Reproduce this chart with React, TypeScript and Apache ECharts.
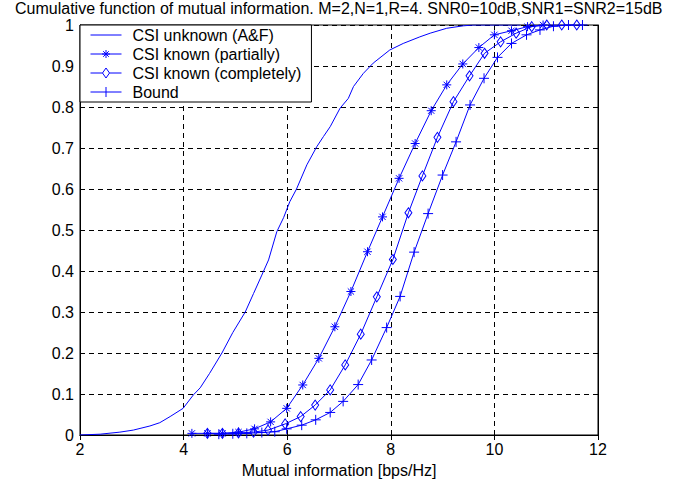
import React, { useEffect, useRef } from "react";
import * as echarts from "echarts";

const titleText =
  "Cumulative function of mutual information. M=2,N=1,R=4. SNR0=10dB,SNR1=SNR2=15dB";
const xLabel = "Mutual information [bps/Hz]";
const seriesNames = [
  "CSI unknown (A&F)",
  "CSI known (partially)",
  "CSI known (completely)",
  "Bound",
];

// CSI unknown (A&F)
const unknownX = [2, 2.39, 2.77, 3.03, 3.35, 3.54, 3.74, 3.99, 4.19, 4.32, 4.5, 4.74, 4.95, 5.19, 5.35, 5.51, 5.64, 5.8, 5.93, 6.05, 6.18, 6.38, 6.57, 6.7, 6.83, 7.02, 7.18, 7.28, 7.47, 7.66, 7.98, 8.24, 8.56, 8.76, 9.08, 9.4, 9.59, 10.5];
const unknownY = [0, 0.002, 0.007, 0.012, 0.022, 0.03, 0.045, 0.065, 0.098, 0.115, 0.15, 0.2, 0.25, 0.3, 0.345, 0.39, 0.427, 0.496, 0.53, 0.569, 0.6, 0.659, 0.703, 0.728, 0.752, 0.797, 0.821, 0.85, 0.882, 0.907, 0.939, 0.955, 0.971, 0.98, 0.992, 0.998, 1, 1];

// CSI known (partially)
const partialX = [4.16, 4.46, 4.75, 5.06, 5.37, 5.68, 5.99, 6.3, 6.61, 6.92, 7.23, 7.55, 7.84, 8.16, 8.47, 8.78, 9.08, 9.39, 9.7, 10.0, 10.33, 10.64, 10.94];
const partialY = [0.004, 0.004, 0.004, 0.007, 0.015, 0.032, 0.065, 0.122, 0.187, 0.264, 0.35, 0.447, 0.532, 0.626, 0.711, 0.791, 0.854, 0.905, 0.945, 0.976, 0.986, 0.996, 1.0];

// CSI known (completely)
const completeX = [4.46, 4.75, 5.06, 5.35, 5.63, 5.96, 6.26, 6.54, 6.83, 7.12, 7.42, 7.73, 8.04, 8.34, 8.61, 8.9, 9.21, 9.52, 9.81, 10.12, 10.42, 10.72, 11.01, 11.3, 11.59];
const completeY = [0.004, 0.004, 0.005, 0.007, 0.012, 0.027, 0.045, 0.073, 0.11, 0.171, 0.246, 0.337, 0.428, 0.542, 0.632, 0.726, 0.813, 0.876, 0.931, 0.959, 0.98, 0.996, 1, 1, 1];

// Bound
const boundX = [4.68, 4.95, 5.22, 5.51, 5.76, 5.99, 6.28, 6.55, 6.83, 7.08, 7.37, 7.63, 7.92, 8.18, 8.45, 8.72, 9.0, 9.26, 9.53, 9.8, 10.06, 10.33, 10.62, 10.88, 11.14, 11.43, 11.7];
const boundY = [0.002, 0.003, 0.004, 0.006, 0.008, 0.015, 0.024, 0.037, 0.055, 0.082, 0.123, 0.183, 0.262, 0.338, 0.446, 0.54, 0.634, 0.715, 0.805, 0.87, 0.921, 0.955, 0.976, 0.988, 0.997, 1, 1];

const BLUE = "#0000ff";
const FONT = "'Liberation Sans', Arial, Helvetica, sans-serif";

const zip = (xs: number[], ys: number[]) => xs.map((x, i) => [x, ys[i]]);

const ASTERISK = "path://M0,5 L10,5 M5,0 L5,10 M1.5,1.5 L8.5,8.5 M8.5,1.5 L1.5,8.5";
const PLUS = "path://M0,5 L10,5 M5,0 L5,10";
const DIAMOND = "path://M5,0 L10,7 L5,14 L0,7 Z";

// legend icons (31 x 10 box): line with the marker in its middle
const LEG_LINE = "path://M0,0 M0,5 L31,5 M31,10";
const LEG_ASTERISK =
  "path://M0,0 M0,5 L31,5 M11.5,5 L19.5,5 M15.5,1 L15.5,9 M12.7,2.2 L18.3,7.8 M18.3,2.2 L12.7,7.8 M31,10";
const LEG_DIAMOND = "path://M0,5 L12,5 M19,5 L31,5 M15.5,0 L19,5 L15.5,10 L12,5 Z";
const LEG_PLUS = "path://M0,5 L31,5 M15.5,0 L15.5,10";

export default function App() {
  const ref = useRef<HTMLDivElement>(null);
  useEffect(() => {
    if (!ref.current) return;
    const chart = echarts.init(ref.current, undefined, { renderer: "svg" });
    const axisLabel = { color: "#000", fontSize: 16, fontFamily: FONT };
    const baseSeries = (name: string, data: number[][], symbol: string, size: any, fill: string) => ({
      name,
      type: "line",
      data,
      symbol,
      symbolSize: size,
      lineStyle: { color: BLUE, width: 1 },
      itemStyle: { color: fill, borderColor: BLUE, borderWidth: 1 },
      emphasis: { disabled: true },
      z: 3,
    });
    const legStyle = { color: "none", borderColor: BLUE, borderWidth: 1 };
    const legIcons = [LEG_LINE, LEG_ASTERISK, LEG_DIAMOND, LEG_PLUS];
    chart.setOption({
      animation: false,
      backgroundColor: "#fff",
      title: {
        text: titleText,
        left: 15,
        top: 0,
        padding: 0,
        textStyle: { color: "#000", fontSize: 16, fontWeight: "normal", fontFamily: FONT },
      },
      grid: {
        left: 80,
        right: 101,
        top: 25,
        bottom: 49,
        show: true,
        borderColor: "#000",
        borderWidth: 1,
        backgroundColor: "#fff",
      },
      legend: {
        left: 80,
        top: 25,
        orient: "vertical",
        backgroundColor: "#fff",
        borderColor: "#000",
        borderWidth: 1,
        borderRadius: 0,
        padding: [2, 10, 2, 8],
        itemGap: 3,
        itemWidth: 31,
        itemHeight: 10,
        textStyle: { color: "#000", fontSize: 16, fontFamily: FONT, padding: [0, 0, 0, 6] },
        data: seriesNames.map((name, i) => ({ name, icon: legIcons[i], itemStyle: legStyle })),
      },
      xAxis: [
        {
          type: "value",
          min: 2,
          max: 12,
          interval: 2,
          name: xLabel,
          nameLocation: "middle",
          nameGap: 27,
          nameTextStyle: { color: "#000", fontSize: 16, fontFamily: FONT },
          axisLine: { show: true, lineStyle: { color: "#000", width: 1 } },
          axisTick: { show: true, inside: true, length: 5, lineStyle: { color: "#000" } },
          axisLabel: { ...axisLabel, margin: 6 },
          splitLine: { show: true, lineStyle: { color: "#000", type: [5, 4], width: 1 } },
        },
        {
          type: "value",
          position: "top",
          min: 2,
          max: 12,
          interval: 2,
          axisLine: { show: true, lineStyle: { color: "#000", width: 1 } },
          axisTick: { show: true, inside: true, length: 5, lineStyle: { color: "#000" } },
          axisLabel: { show: false },
          splitLine: { show: false },
        },
      ],
      yAxis: [
        {
          type: "value",
          min: 0,
          max: 1,
          interval: 0.1,
          axisLine: { show: true, lineStyle: { color: "#000", width: 1 } },
          axisTick: { show: true, inside: true, length: 5, lineStyle: { color: "#000" } },
          axisLabel: {
            ...axisLabel,
            margin: 6,
            formatter: (v: number) => (v === 0 ? "0" : v === 1 ? "1" : v.toFixed(1)),
          },
          splitLine: { show: true, lineStyle: { color: "#000", type: [5, 4], width: 1 } },
        },
        {
          type: "value",
          position: "right",
          min: 0,
          max: 1,
          interval: 0.1,
          axisLine: { show: true, lineStyle: { color: "#000", width: 1 } },
          axisTick: { show: true, inside: true, length: 5, lineStyle: { color: "#000" } },
          axisLabel: { show: false },
          splitLine: { show: false },
        },
      ],
      series: [
        baseSeries(seriesNames[0], zip(unknownX, unknownY), "none", 0, BLUE),
        baseSeries(seriesNames[1], zip(partialX, partialY), ASTERISK, 9, BLUE),
        baseSeries(seriesNames[2], zip(completeX, completeY), DIAMOND, [7, 10], "none"),
        baseSeries(seriesNames[3], zip(boundX, boundY), PLUS, 10, BLUE),
      ],
    });
    return () => chart.dispose();
  }, []);
  return (
    <div
      ref={ref}
      style={{ position: "absolute", left: 0, top: 0, width: 699, height: 484 }}
    />
  );
}
